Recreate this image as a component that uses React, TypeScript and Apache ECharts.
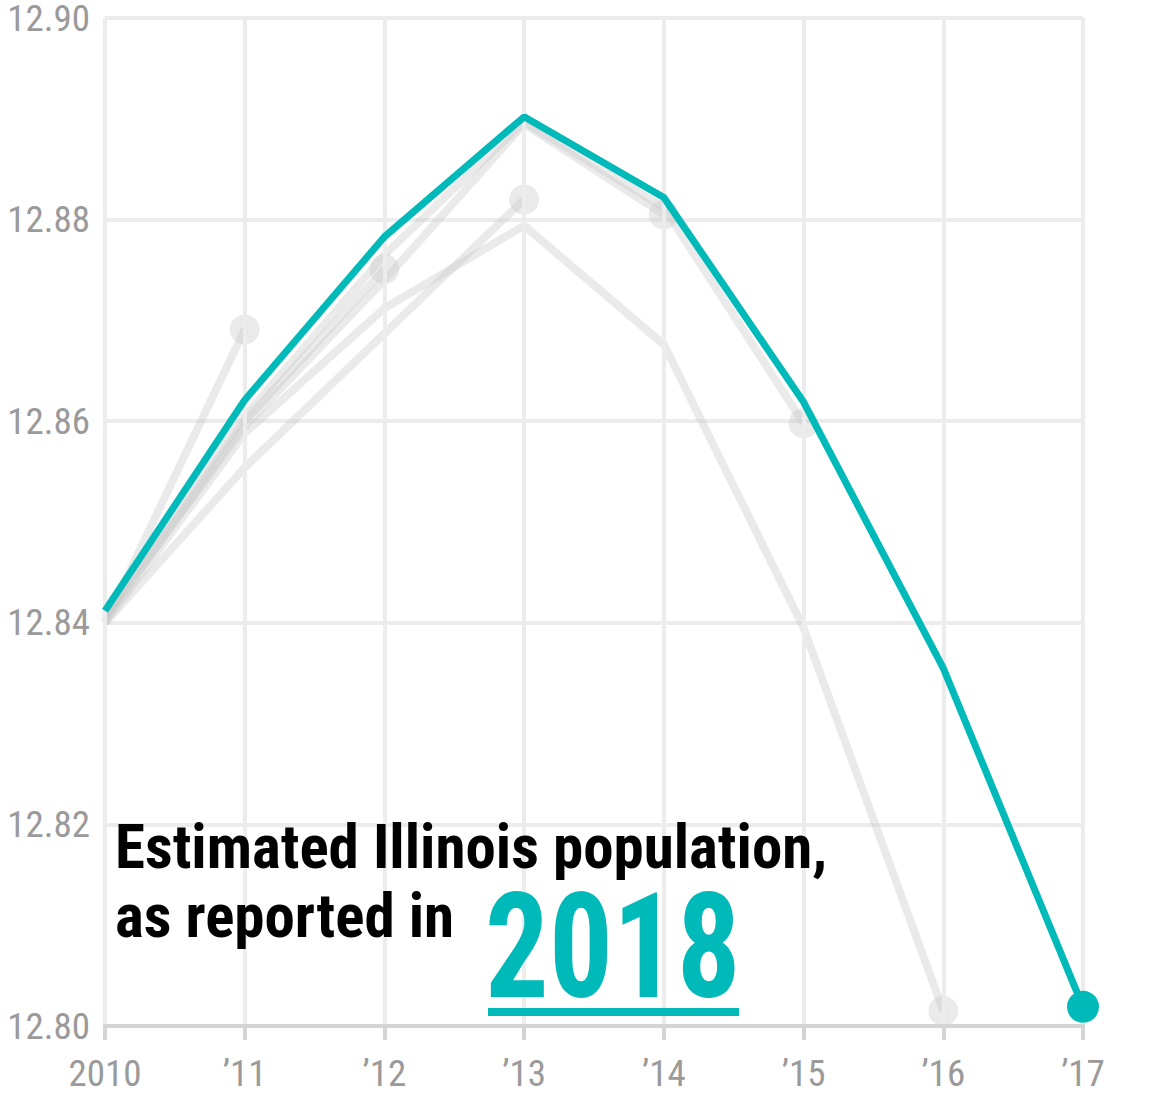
import React, { useEffect, useRef } from "react";
import * as echarts from "echarts";

const years = ["2010", "\u201911", "\u201912", "\u201913", "\u201914", "\u201915", "\u201916", "\u201917"];
const yTicks = [12.8, 12.82, 12.84, 12.86, 12.88, 12.9];

const reported2012 = [12.84, 12.8691];
const reported2013 = [12.8403, 12.86, 12.8751];
const reported2014 = [12.84, 12.8554, 12.8687, 12.882];
const reported2015 = [12.8405, 12.8595, 12.874, 12.8895, 12.8805];
const reported2016 = [12.8408, 12.8605, 12.8765, 12.8897, 12.8812, 12.8598];
const reported2017 = [12.84, 12.8588, 12.8712, 12.8794, 12.8676, 12.8395, 12.8015];
const reported2018 = [12.8412, 12.8621, 12.8783, 12.8902, 12.8822, 12.8619, 12.8355, 12.8019];

const grayVintages = [reported2012, reported2013, reported2014, reported2015, reported2016, reported2017];

const FONT = "'Roboto Condensed', 'DejaVu Sans Condensed', sans-serif";
const TEAL = "#00b9b9";
const GRAY = "rgba(200,200,200,0.38)";

function withEndDot(values: number[], size: number) {
  return values.map((v, i) =>
    i === values.length - 1 ? { value: v, symbol: "circle", symbolSize: size } : { value: v, symbol: "none" }
  );
}

export default function App() {
  const ref = useRef<HTMLDivElement>(null);
  useEffect(() => {
    if (!ref.current) return;
    const chart = echarts.init(ref.current, null, { renderer: "svg" });
    const graySeries = grayVintages.map((vals, k) => ({
      type: "line",
      name: "gray" + k,
      data: withEndDot(vals, 30),
      lineStyle: { color: GRAY, width: 8 },
      itemStyle: { color: GRAY },
      showSymbol: true,
      z: 2,
      silent: true,
    }));
    chart.setOption({
      animation: false,
      backgroundColor: "#ffffff",
      grid: { left: 105, right: 70, top: 18, bottom: 90, containLabel: false, outerBoundsMode: "none" },
      xAxis: {
        type: "category",
        data: years,
        boundaryGap: false,
        axisLine: { show: true, lineStyle: { color: "#d4d4d4", width: 4 } },
        axisTick: { show: true, length: 14, lineStyle: { color: "#d4d4d4", width: 4 } },
        splitLine: { show: true, lineStyle: { color: "#ececec", width: 4 } },
        axisLabel: { color: "#9a9a9a", fontFamily: FONT, fontSize: 37, margin: 29 },
        z: 3,
      },
      yAxis: {
        type: "value",
        min: yTicks[0],
        max: yTicks[yTicks.length - 1],
        interval: 0.02,
        axisLine: { show: false },
        axisTick: { show: false },
        splitLine: { show: true, lineStyle: { color: "#ececec", width: 4 } },
        axisLabel: {
          color: "#9a9a9a",
          fontFamily: FONT,
          fontSize: 37,
          lineHeight: 30,
          margin: 15,
          formatter: (v: number) => v.toFixed(2),
        },
      },
      series: [
        ...graySeries,
        {
          type: "line",
          name: "2018",
          data: withEndDot(reported2018, 32),
          lineStyle: { color: TEAL, width: 7 },
          itemStyle: { color: TEAL },
          z: 5,
          clip: false,
          silent: true,
        },
      ],
      graphic: [
        {
          type: "text",
          x: 115,
          y: 847,
          style: {
            x: 0,
            y: 0,
            text: "Estimated Illinois population,",
            fill: "#000",
            font: `bold 61px ${FONT}`,
            verticalAlign: "middle",
          },
          z: 10,
        },
        {
          type: "text",
          x: 115,
          y: 916,
          style: {
            x: 0,
            y: 0,
            text: "as reported in",
            fill: "#000",
            font: `bold 61px ${FONT}`,
            verticalAlign: "middle",
          },
          z: 10,
        },
        {
          type: "text",
          x: 485,
          y: 947,
          scaleX: 0.86,
          style: {
            x: 0,
            y: 0,
            text: "2018",
            fill: TEAL,
            font: `bold 147px ${FONT}`,
            verticalAlign: "middle",
          },
          z: 10,
        },
        {
          type: "rect",
          shape: { x: 488, y: 1008, width: 251, height: 8 },
          style: { fill: TEAL },
          z: 10,
        },
      ],
    });
    return () => chart.dispose();
  }, []);
  return <div ref={ref} style={{ position: "fixed", left: 0, top: 0, width: 1153, height: 1116 }} />;
}
